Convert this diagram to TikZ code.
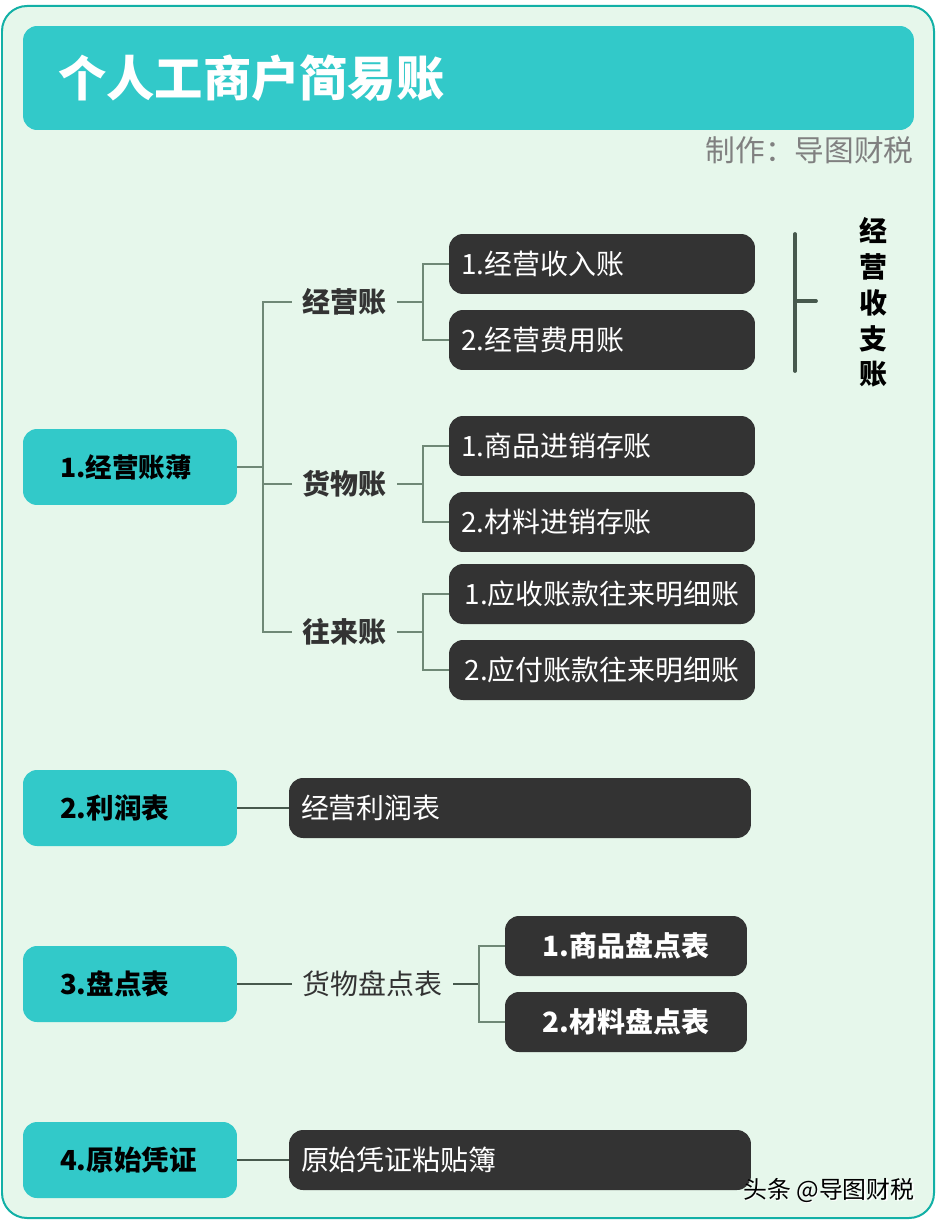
\documentclass[tikz,border=0pt]{standalone}
\usepackage{fontspec}
\setmainfont{Noto Sans CJK SC}
\definecolor{panelfill}{HTML}{E6F7EB}
\definecolor{panelline}{HTML}{12B0A6}
\definecolor{tealfill}{HTML}{32C9C9}
\definecolor{darkfill}{HTML}{333333}
\definecolor{linkgreen}{HTML}{6F8876}
\definecolor{barkgreen}{HTML}{47594D}
\definecolor{creditgray}{HTML}{808080}
\tikzset{
  rootbox/.style={fill=tealfill,rounded corners=0.28cm,minimum width=4.28cm,minimum height=1.52cm,inner sep=0pt,text width=2.8cm,align=left,font=\fontsize{15.7}{18}\selectfont\bfseries},
  leafbox/.style={fill=darkfill,rounded corners=0.28cm,minimum height=1.2cm,inner sep=0pt,text=white,font=\fontsize{15.9}{18}\selectfont},
  midlabel/.style={inner sep=0pt,minimum width=2.1cm,minimum height=0.8cm,text=darkfill,font=\fontsize{15.9}{18}\selectfont\bfseries},
  link/.style={draw=linkgreen,line width=0.04cm},
  darklink/.style={draw=barkgreen,line width=0.04cm},
  sidechar/.style={inner sep=0pt,font=\fontsize{15.9}{18}\selectfont\bfseries},
}
\begin{document}
\begin{tikzpicture}[x=0.02cm,y=-0.02cm]
  \useasboundingbox (0,0) rectangle (937,1223);
  \draw[panelline,fill=panelfill,line width=0.04cm,rounded corners=0.5cm] (2,6) rectangle (934,1218);

  \node[fill=tealfill,rounded corners=0.28cm,minimum width=17.82cm,minimum height=2.08cm,inner sep=0pt,text width=16.42cm,align=left,text=white,font=\fontsize{27.5}{30}\selectfont\bfseries] (title) at (468.5,78) {个人工商户简易账};
  \node[anchor=east,inner sep=0pt,text=creditgray,font=\fontsize{16.9}{20}\selectfont] (credit) at (914,150) {制作\symbol{"FF1A}导图财税};

  \node[rootbox,font=\fontsize{15.1}{18}\selectfont\bfseries] (root1) at (130,467) {1.经营账薄};
  \node[rootbox] (root2) at (130,808) {2.利润表};
  \node[rootbox] (root3) at (130,984) {3.盘点表};
  \node[rootbox] (root4) at (130,1160) {4.原始凭证};

  \node[midlabel] (jingying) at (344.5,302) {经营账};
  \node[midlabel] (huowu) at (344.5,484) {货物账};
  \node[midlabel] (wanglai) at (344.5,632) {往来账};
  \node[midlabel,minimum width=3.22cm,font=\fontsize{15.9}{18}\selectfont] (pandian) at (372.5,984) {货物盘点表};

  \node[leafbox,minimum width=6.12cm,text width=5.64cm,align=left] (leaf1) at (602,264) {1.经营收入账};
  \node[leafbox,minimum width=6.12cm,text width=5.64cm,align=left] (leaf2) at (602,340) {2.经营费用账};
  \node[leafbox,minimum width=6.12cm,text width=5.64cm,align=left] (leaf3) at (602,446) {1.商品进销存账};
  \node[leafbox,minimum width=6.12cm,text width=5.64cm,align=left] (leaf4) at (602,522) {2.材料进销存账};
  \node[leafbox,minimum width=6.12cm,text width=5.64cm,align=center] (leaf5) at (602,594) {1.应收账款往来明细账};
  \node[leafbox,minimum width=6.12cm,text width=5.64cm,align=center] (leaf6) at (602,670) {2.应付账款往来明细账};
  \node[leafbox,minimum width=9.24cm,text width=8.76cm,align=left] (profit) at (520,808) {经营利润表};
  \node[leafbox,minimum width=4.84cm,text width=4.4cm,align=center,font=\fontsize{15.9}{18}\selectfont\bfseries] (stock1) at (626,946) {1.商品盘点表};
  \node[leafbox,minimum width=4.84cm,text width=4.4cm,align=center,font=\fontsize{15.9}{18}\selectfont\bfseries] (stock2) at (626,1022) {2.材料盘点表};
  \node[leafbox,minimum width=9.24cm,text width=8.76cm,align=left] (voucher) at (520,1160) {原始凭证粘贴簿};

  \coordinate (fork1) at (263,467);
  \coordinate (fork2) at (423,302);
  \coordinate (fork3) at (423,484);
  \coordinate (fork4) at (423,632);
  \coordinate (fork5) at (479,984);

  \draw[link] (root1.east) -- (fork1);
  \draw[link] (fork1) |- (jingying.west);
  \draw[link] (fork1) |- (huowu.west);
  \draw[link] (fork1) |- (wanglai.west);
  \draw[link] (jingying.east) -- (fork2);
  \draw[link] (huowu.east) -- (fork3);
  \draw[link] (wanglai.east) -- (fork4);
  \draw[link] (fork2) |- (leaf1.west);
  \draw[link] (fork2) |- (leaf2.west);
  \draw[link] (fork3) |- (leaf3.west);
  \draw[link] (fork3) |- (leaf4.west);
  \draw[link] (fork4) |- (leaf5.west);
  \draw[link] (fork4) |- (leaf6.west);
  \draw[darklink] (root2.east) -- (profit.west);
  \draw[darklink] (root3.east) -- (pandian.west);
  \draw[darklink] (pandian.east) -- (fork5);
  \draw[link] (fork5) |- (stock1.west);
  \draw[link] (fork5) |- (stock2.west);
  \draw[darklink] (root4.east) -- (voucher.west);

  \coordinate (bartop) at (795,234);
  \coordinate (barbot) at (795,371);
  \coordinate (barmid) at (795,301);
  \coordinate (bartip) at (816,301);
  \draw[barkgreen,line width=0.075cm,line cap=round] (bartop) -- (barbot);
  \draw[barkgreen,line width=0.075cm,line cap=round] (barmid) -- (bartip);

  \node[sidechar] (side1) at (873,231) {经};
  \node[sidechar] (side2) at (873,267) {营};
  \node[sidechar] (side3) at (873,303) {收};
  \node[sidechar] (side4) at (873,339) {支};
  \node[sidechar] (side5) at (873,374) {账};

  \node[anchor=east,inner sep=0pt,text=white,font=\fontsize{13.6}{16}\selectfont] (markshadow) at (916.5,1191.5) {头条 @导图财税};
  \node[anchor=east,inner sep=0pt,text=black,font=\fontsize{13.6}{16}\selectfont] (mark) at (915,1190) {头条 @导图财税};
\end{tikzpicture}
\end{document}
